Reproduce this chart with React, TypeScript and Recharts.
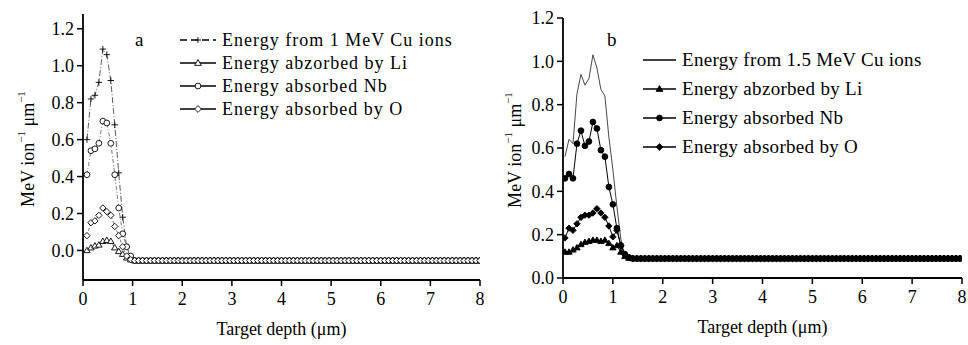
import React from 'react';
import { LineChart, Line, XAxis, YAxis, Label } from 'recharts';

const FONT = '"Liberation Serif", "Times New Roman", serif';
const STEP = 0.08;

// panel a: 1 MeV Cu ions (depth in um, energy in MeV/ion/um)
const leftPeakDepth = [0.08, 0.16, 0.24, 0.32, 0.4, 0.48, 0.56, 0.64, 0.72, 0.8, 0.88, 0.96];
const leftCu = [0.6, 0.82, 0.84, 0.91, 1.09, 1.06, 0.92, 0.68, 0.42, 0.18, 0.02, -0.04];
const leftLi = [0.0, 0.015, 0.025, 0.03, 0.05, 0.055, 0.05, 0.015, -0.005, -0.02, -0.04, -0.05];
const leftNb = [0.41, 0.54, 0.55, 0.58, 0.7, 0.69, 0.58, 0.41, 0.23, 0.09, 0.02, -0.03];
const leftO = [0.08, 0.15, 0.16, 0.19, 0.23, 0.21, 0.19, 0.13, 0.08, 0.02, -0.03, -0.05];
const leftTailLevel = -0.055;

// panel b: 1.5 MeV Cu ions
const rightPeakDepth = [0.04, 0.12, 0.2, 0.28, 0.36, 0.44, 0.52, 0.6, 0.68, 0.76, 0.84, 0.92, 1.0, 1.08, 1.16, 1.24, 1.32];
const rightCu = [0.56, 0.64, 0.62, 0.85, 0.94, 0.89, 0.92, 1.03, 0.97, 0.87, 0.84, 0.65, 0.5, 0.33, 0.18, 0.1, 0.09];
const rightLi = [0.12, 0.12, 0.13, 0.14, 0.155, 0.165, 0.17, 0.175, 0.175, 0.17, 0.175, 0.16, 0.14, 0.15, 0.12, 0.1, 0.092];
const rightNb = [0.46, 0.48, 0.46, 0.62, 0.68, 0.61, 0.63, 0.72, 0.69, 0.59, 0.56, 0.42, 0.34, 0.23, 0.15, 0.11, 0.095];
const rightO = [0.185, 0.23, 0.22, 0.25, 0.28, 0.29, 0.29, 0.3, 0.32, 0.3, 0.28, 0.24, 0.19, 0.22, 0.15, 0.11, 0.095];
const rightTailLevel = 0.09;

const depthTicks = [0, 1, 2, 3, 4, 5, 6, 7, 8];
const frameTicks = [0, 0.5, 1, 1.5, 2, 2.5, 3, 3.5, 4, 4.5, 5, 5.5, 6, 6.5, 7, 7.5, 8];
const energyTicks = [0, 0.2, 0.4, 0.6, 0.8, 1.0, 1.2];

const leftLegend = ['Energy from 1 MeV Cu ions', 'Energy abzorbed by Li', 'Energy absorbed Nb', 'Energy absorbed by O'];
const rightLegend = ['Energy from 1.5 MeV Cu ions', 'Energy abzorbed by Li', 'Energy absorbed Nb', 'Energy absorbed by O'];

type Row = { depth: number; cu: number; li: number; nb: number; o: number };

// flat part of the profile: same level at every sampled depth
const tailGrid = (start: number, end: number) => {
  const out: number[] = [];
  for (let d = start; d <= end + 1e-9; d += STEP) out.push(Number(d.toFixed(2)));
  return out;
};

const buildRows = (depth: number[], cu: number[], li: number[], nb: number[], o: number[], tailStart: number, tail: number): Row[] => {
  const rows = depth.map((d, i) => ({ depth: d, cu: cu[i], li: li[i], nb: nb[i], o: o[i] }));
  tailGrid(tailStart, 8).forEach((d) => rows.push({ depth: d, cu: tail, li: tail, nb: tail, o: tail }));
  return rows;
};

const leftRows = buildRows(leftPeakDepth, leftCu, leftLi, leftNb, leftO, 1.04, leftTailLevel);
const rightRows = buildRows(rightPeakDepth, rightCu, rightLi, rightNb, rightO, 1.4, rightTailLevel);

type Shape = 'plus' | 'tri' | 'circle' | 'diamond' | 'none';

const markerPath = (shape: Shape, cx: number, cy: number, s: number) => {
  if (shape === 'plus') return `M${cx - s},${cy}h${2 * s}M${cx},${cy - s}v${2 * s}`;
  if (shape === 'tri') return `M${cx},${cy - s}L${cx + s},${cy + s * 0.7}L${cx - s},${cy + s * 0.7}Z`;
  if (shape === 'diamond') return `M${cx},${cy - s}L${cx + s},${cy}L${cx},${cy + s}L${cx - s},${cy}Z`;
  return '';
};

const Marker = ({ shape, cx, cy, filled, size }: { shape: Shape; cx: number; cy: number; filled: boolean; size: number }) => {
  if (shape === 'none') return null;
  if (shape === 'circle') {
    return <circle cx={cx} cy={cy} r={size * 0.85} fill={filled ? '#000' : '#fff'} stroke="#000" strokeWidth={0.9} />;
  }
  return (
    <path
      d={markerPath(shape, cx, cy, size)}
      fill={shape === 'plus' ? 'none' : filled ? '#000' : '#fff'}
      stroke="#000"
      strokeWidth={0.9}
    />
  );
};

const dotFor = (shape: Shape, filled: boolean, size: number) => (props: any) => {
  const { cx, cy, index } = props;
  if (cx == null || cy == null || shape === 'none') return <g key={`d-${index}`} />;
  return (
    <g key={`d-${index}`}>
      <Marker shape={shape} cx={cx} cy={cy} filled={filled} size={size} />
    </g>
  );
};

type SeriesStyle = { key: keyof Row; shape: Shape; dash?: string; stroke: string; width: number };

const leftSeries: SeriesStyle[] = [
  { key: 'cu', shape: 'plus', dash: '6 2 1 2', stroke: '#333', width: 0.8 },
  { key: 'li', shape: 'tri', dash: '3 2', stroke: '#444', width: 0.7 },
  { key: 'nb', shape: 'circle', dash: '4 2 1 2', stroke: '#444', width: 0.7 },
  { key: 'o', shape: 'diamond', dash: '3 2', stroke: '#444', width: 0.7 },
];

const rightSeries: SeriesStyle[] = [
  { key: 'cu', shape: 'none', stroke: '#333', width: 0.9 },
  { key: 'li', shape: 'tri', stroke: '#000', width: 1 },
  { key: 'nb', shape: 'circle', stroke: '#000', width: 1 },
  { key: 'o', shape: 'diamond', stroke: '#000', width: 1 },
];

const tickStyle = { fontFamily: FONT, fontSize: 18, fill: '#000', style: { fontFamily: FONT } };

const YTitle = ({ viewBox, x }: any) => {
  const cy = viewBox.y + viewBox.height / 2 + 2;
  return (
    <text
      x={x}
      y={cy}
      transform={`rotate(-90 ${x} ${cy})`}
      textAnchor="middle"
      dominantBaseline="central"
      style={{ fontFamily: FONT }}
      fontSize={18}
      fill="#000"
    >
      MeV ion<tspan dy={-7} fontSize={11}>−1</tspan>
      <tspan dy={7}> μm</tspan>
      <tspan dy={-7} fontSize={11}>−1</tspan>
    </text>
  );
};

type PanelProps = {
  rows: Row[];
  width: number;
  margin: { top: number; right: number; bottom: number; left: number };
  yAxisWidth: number;
  yDomain: [number, number];
  series: SeriesStyle[];
  filled: boolean;
  titleX: number;
};

const Panel = ({ rows, width, margin, yAxisWidth, yDomain, series, filled, titleX }: PanelProps) => (
  <LineChart width={width} height={345} data={rows} margin={margin} style={{ fontFamily: FONT }}>
    <XAxis
      dataKey="depth"
      type="number"
      domain={[0, 8]}
      ticks={depthTicks}
      interval={0}
      height={60}
      tickSize={6}
      tickMargin={6}
      tick={tickStyle}
      axisLine={{ stroke: '#000', strokeWidth: 1.8 }}
      tickLine={{ stroke: '#000', strokeWidth: 1.5 }}
      allowDataOverflow
    >
      <Label value="Target depth (μm)" position="insideBottom" offset={5} style={{ fontFamily: FONT, fontSize: 18, fill: '#000' }} />
    </XAxis>
    <XAxis
      xAxisId="top"
      orientation="top"
      type="number"
      domain={[0, 8]}
      ticks={frameTicks}
      interval={0}
      height={0}
      mirror
      tick={false}
      tickSize={4}
      axisLine={{ stroke: '#000', strokeWidth: 1.2 }}
      tickLine={{ stroke: '#000', strokeWidth: 1 }}
    />
    <YAxis
      type="number"
      domain={yDomain}
      ticks={energyTicks}
      interval={0}
      width={yAxisWidth}
      tickSize={6}
      tickMargin={3}
      tick={tickStyle}
      tickFormatter={(v: number) => v.toFixed(1)}
      axisLine={{ stroke: '#000', strokeWidth: 1.8 }}
      tickLine={{ stroke: '#000', strokeWidth: 1.5 }}
      allowDataOverflow
    >
      <Label content={(p: any) => <YTitle {...p} x={titleX} />} />
    </YAxis>
    <YAxis
      yAxisId="right"
      orientation="right"
      type="number"
      domain={yDomain}
      ticks={energyTicks}
      interval={0}
      width={0}
      mirror
      tick={false}
      tickSize={4}
      axisLine={{ stroke: '#000', strokeWidth: 1.2 }}
      tickLine={{ stroke: '#000', strokeWidth: 1 }}
    />
    {series.map((s) => (
      <Line
        key={s.key}
        dataKey={s.key}
        type="linear"
        stroke={s.stroke}
        strokeWidth={s.width}
        strokeDasharray={s.dash}
        dot={dotFor(s.shape, filled, s.shape === 'circle' ? 3.4 : 3.2)}
        activeDot={false}
        isAnimationActive={false}
      />
    ))}
  </LineChart>
);

const LegendBlock = ({ labels, series, filled, left, top, rowGap, lineW, fontSize, spacing }: any) => (
  <div style={{ position: 'absolute', left, top, fontFamily: FONT, fontSize, letterSpacing: spacing, color: '#000' }}>
    {labels.map((label: string, i: number) => {
      const s: SeriesStyle = series[i];
      return (
        <div key={label} style={{ position: 'absolute', top: i * rowGap, left: 0, height: 20, display: 'flex', alignItems: 'center', whiteSpace: 'nowrap' }}>
          <svg width={lineW} height={12} style={{ marginRight: 6 }}>
            <line x1={0} y1={6} x2={lineW} y2={6} stroke="#000" strokeWidth={1.6} strokeDasharray={i === 0 && s.dash ? '7 4' : undefined} />
            <Marker shape={s.shape} cx={lineW / 2} cy={6} filled={filled} size={s.shape === 'plus' ? 3 : 3.4} />
          </svg>
          <span>{label}</span>
        </div>
      );
    })}
  </div>
);

export default function App() {
  return (
    <div style={{ position: 'absolute', left: 0, top: 0, width: 968, height: 345, background: '#fff', fontFamily: FONT }}>
      <div style={{ position: 'absolute', left: 0, top: 0 }}>
        <Panel
          rows={leftRows}
          width={490}
          margin={{ top: 14, right: 10, bottom: 5, left: 0 }}
          yAxisWidth={83}
          yDomain={[-0.16, 1.28]}
          series={leftSeries}
          filled={false}
          titleX={28}
        />
      </div>
      <div style={{ position: 'absolute', left: 490, top: 0 }}>
        <Panel
          rows={rightRows}
          width={478}
          margin={{ top: 18, right: 6, bottom: 7, left: 0 }}
          yAxisWidth={73}
          yDomain={[0, 1.2]}
          series={rightSeries}
          filled={true}
          titleX={25}
        />
      </div>
      <div style={{ position: 'absolute', left: 135, top: 29, fontSize: 19 }}>a</div>
      <div style={{ position: 'absolute', left: 607, top: 29, fontSize: 19 }}>b</div>
      <LegendBlock labels={leftLegend} series={leftSeries} filled={false} left={180} top={30} rowGap={23} lineW={36} fontSize={18} spacing={1} />
      <LegendBlock labels={rightLegend} series={rightSeries} filled={true} left={643} top={50} rowGap={29} lineW={33} fontSize={19} spacing={0.3} />
    </div>
  );
}
